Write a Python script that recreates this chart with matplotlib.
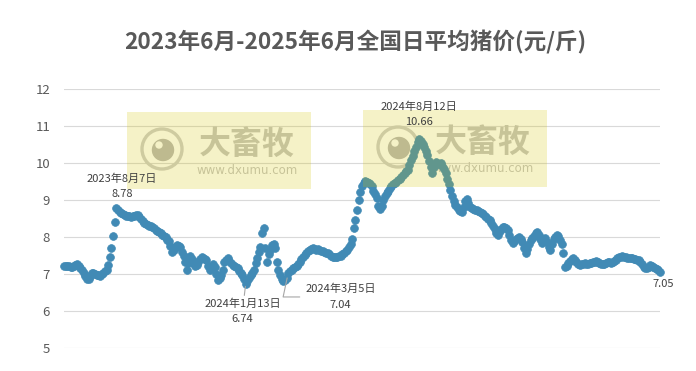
import matplotlib
matplotlib.use("Agg")
import matplotlib.pyplot as plt
import matplotlib.patches as mpatches
from matplotlib.transforms import IdentityTransform
import pandas as pd

plt.rcParams['font.family'] = ['Noto Sans CJK SC', 'DejaVu Sans']

title = "2023年6月-2025年6月全国日平均猪价(元/斤)"
start_date = "2023-06-05"
# daily average pig price (yuan/jin), read every 2 days from the chart
price = [
    7.21, 7.22, 7.22, 7.21, 7.20, 7.19, 7.21, 7.24, 7.26, 7.22,
    7.17, 7.12, 7.03, 6.94, 6.87, 6.86, 6.95, 7.03, 7.02, 6.99,
    6.97, 6.96, 6.95, 6.99, 7.04, 7.08, 7.12, 7.25, 7.45, 7.70,
    8.02, 8.40, 8.78, 8.74, 8.68, 8.65, 8.62, 8.60, 8.58, 8.57,
    8.56, 8.55, 8.56, 8.58, 8.60, 8.60, 8.55, 8.48, 8.42, 8.38,
    8.35, 8.32, 8.30, 8.29, 8.26, 8.23, 8.20, 8.16, 8.13, 8.10,
    8.06, 8.03, 7.99, 7.93, 7.88, 7.75, 7.60, 7.66, 7.74, 7.78,
    7.76, 7.72, 7.60, 7.48, 7.32, 7.12, 7.30, 7.48, 7.40, 7.30,
    7.22, 7.25, 7.32, 7.40, 7.46, 7.44, 7.40, 7.38, 7.22, 7.10,
    7.20, 7.28, 7.18, 7.00, 6.84, 6.90, 6.98, 7.10, 7.32, 7.38,
    7.42, 7.36, 7.30, 7.24, 7.22, 7.18, 7.15, 7.08, 7.02, 6.96,
    6.86, 6.74, 6.80, 6.88, 6.96, 7.02, 7.12, 7.30, 7.42, 7.60,
    7.72, 8.10, 8.24, 7.70, 7.32, 7.55, 7.64, 7.78, 7.80, 7.70,
    7.33, 7.12, 6.97, 6.86, 6.80, 6.84, 6.90, 7.04, 7.08, 7.12,
    7.15, 7.19, 7.22, 7.27, 7.33, 7.40, 7.46, 7.52, 7.57, 7.61,
    7.64, 7.68, 7.70, 7.68, 7.66, 7.67, 7.65, 7.63, 7.61, 7.60,
    7.58, 7.56, 7.54, 7.50, 7.46, 7.45, 7.47, 7.46, 7.48, 7.50,
    7.54, 7.58, 7.62, 7.66, 7.72, 7.82, 7.95, 8.25, 8.45, 8.74,
    9.00, 9.22, 9.38, 9.46, 9.52, 9.50, 9.46, 9.42, 9.38, 9.25,
    9.15, 9.05, 8.85, 8.75, 8.85, 9.00, 9.10, 9.18, 9.25, 9.32,
    9.38, 9.42, 9.46, 9.50, 9.54, 9.58, 9.62, 9.68, 9.72, 9.78,
    9.82, 9.95, 10.08, 10.20, 10.32, 10.44, 10.56, 10.66, 10.60, 10.52,
    10.42, 10.32, 10.22, 10.05, 9.90, 9.72, 9.88, 10.02, 10.00, 9.98,
    9.99, 9.92, 9.84, 9.72, 9.58, 9.42, 9.27, 9.12, 8.98, 8.86,
    8.80, 8.74, 8.70, 8.68, 8.82, 8.96, 9.04, 8.92, 8.82, 8.78,
    8.75, 8.73, 8.72, 8.70, 8.68, 8.65, 8.62, 8.58, 8.54, 8.50,
    8.45, 8.38, 8.30, 8.22, 8.12, 8.05, 8.15, 8.22, 8.27, 8.26,
    8.24, 8.18, 8.05, 7.92, 7.83, 7.88, 7.94, 7.98, 8.00, 7.94,
    7.86, 7.70, 7.56, 7.68, 7.82, 7.92, 7.98, 8.04, 8.10, 8.13,
    8.05, 7.94, 7.84, 7.90, 7.96, 7.86, 7.74, 7.65, 7.80, 7.94,
    8.00, 8.05, 8.02, 7.92, 7.80, 7.58, 7.18, 7.22, 7.30, 7.36,
    7.40, 7.42, 7.38, 7.32, 7.26, 7.24, 7.26, 7.28, 7.30, 7.28,
    7.27, 7.29, 7.31, 7.33, 7.32, 7.34, 7.33, 7.30, 7.28, 7.27,
    7.28, 7.30, 7.32, 7.33, 7.31, 7.32, 7.34, 7.38, 7.42, 7.45,
    7.47, 7.48, 7.47, 7.45, 7.44, 7.43, 7.43, 7.42, 7.41, 7.40,
    7.39, 7.37, 7.33, 7.28, 7.20, 7.16, 7.15, 7.20, 7.23, 7.22,
    7.20, 7.17, 7.14, 7.10, 7.05,
]
y_ticks = [5, 6, 7, 8, 9, 10, 11, 12]

note_dates = ["2023-08-07", "2024-08-12", "2024-01-13", "2024-03-05"]
note_labels = ["2023年8月7日", "2024年8月12日", "2024年1月13日", "2024年3月5日"]
note_values = [8.78, 10.66, 6.74, 7.04]

W, H = 696, 371
blue = '#418AB5'
text_c = '#404040'

fig = plt.figure(figsize=(W / 100, H / 100), dpi=100)
ax = fig.add_axes([64 / W, 1 - 348 / H, (660 - 64) / W, (348 - 89) / H])

dates = pd.date_range(start_date, periods=len(price), freq='2D')
ax.plot(dates, price, 'o', ms=5.6, color=blue, mec=blue, mew=0.5, clip_on=False, zorder=2)

ax.set_xlim(dates[0], dates[-1])
ax.set_ylim(5, 12)
ax.set_yticks(y_ticks)
ax.set_xticks([])
ax.grid(axis='y', color='#D9D9D9', lw=0.8, zorder=0)
ax.set_axisbelow(True)
for s in ax.spines.values():
    s.set_visible(False)
ax.tick_params(axis='y', length=0, pad=10, labelsize=9.5, labelcolor='#595959')

fig.text(355 / W, 1 - 42 / H, title, ha='center', va='center', fontsize=16.3,
         fontweight='bold', color='#595959')

# watermark boxes (pixel coords)
tr = IdentityTransform()


def watermark(x0, y0):
    ax.add_patch(mpatches.Rectangle((x0, H - y0 - 77), 184, 77, transform=tr, color='#D4C400',
                                    alpha=0.22, lw=0, zorder=3, clip_on=False))
    cx, cy = x0 + 35, H - (y0 + 37)
    ax.add_patch(mpatches.Circle((cx, cy), 20, transform=tr, fill=False, ec='#CDCDCD', lw=2.4,
                                 zorder=1.5, clip_on=False))
    ax.add_patch(mpatches.Circle((cx + 1, cy - 1), 10.5, transform=tr, color='#B8B8B8',
                                 zorder=1.5, clip_on=False))
    ax.add_patch(mpatches.Circle((cx - 3, cy + 4), 3, transform=tr, color='white',
                                 zorder=1.6, clip_on=False))
    ax.text(x0 + 120, H - (y0 + 33), "大畜牧", transform=tr, ha='center', va='center',
            fontsize=23, fontweight='bold', color='#C4C4C4', zorder=1.5)
    ax.text(x0 + 120, H - (y0 + 58), "www.dxumu.com", transform=tr, ha='center', va='center',
            fontsize=8.5, color='#C4C4C4', family='DejaVu Sans', zorder=1.5)


watermark(127, 112)
watermark(363, 110)

# annotations
offsets = [(4.7, 6.5), (0, 8.0), (-2.4, -10.5), (12.2, -17.6)]
aligns = [('center', 'bottom'), ('center', 'bottom'), ('center', 'top'), ('left', 'center')]
for i in range(len(note_dates)):
    arrow = None
    if i == 2:
        arrow = dict(arrowstyle='-', color='#A6A6A6', lw=0.8, shrinkA=0, shrinkB=2)
    if i == 3:
        arrow = dict(arrowstyle='-', color='#A6A6A6', lw=0.8, shrinkA=2, shrinkB=4,
                     connectionstyle='angle,angleA=0,angleB=78,rad=0')
    ax.annotate(f"{note_labels[i]}\n{note_values[i]:.2f}", xy=(pd.Timestamp(note_dates[i]), note_values[i]),
                xytext=offsets[i], textcoords='offset points', ha=aligns[i][0], va=aligns[i][1],
                multialignment='center', fontsize=8, color=text_c, linespacing=1.7,
                arrowprops=arrow, zorder=4, annotation_clip=False)

ax.annotate(f"{price[-1]:.2f}", xy=(dates[-1], price[-1]), xytext=(2.2, -8.2),
            textcoords='offset points', ha='center', va='center', fontsize=8, color=text_c,
            zorder=4, annotation_clip=False)

fig.savefig('out.png', dpi=100, facecolor='white')
